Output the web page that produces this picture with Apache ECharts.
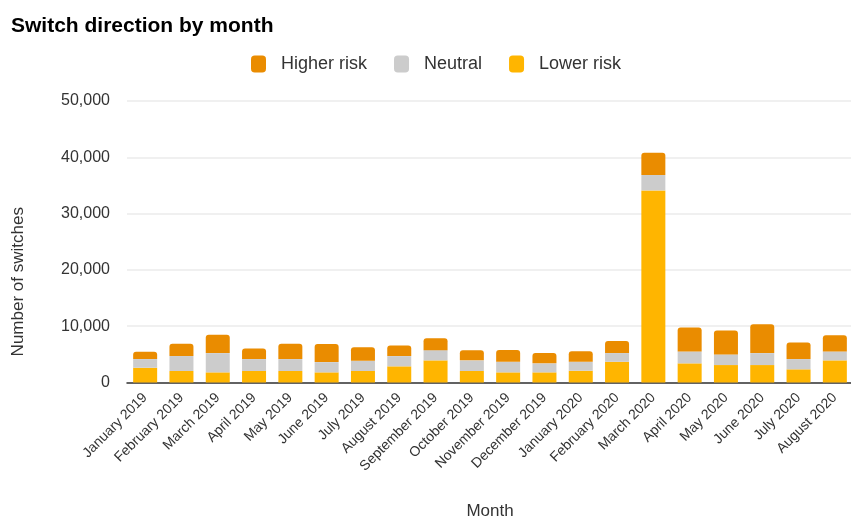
<!DOCTYPE html>
<html>
<head>
    <meta charset="utf-8">
    <title>Switch direction by month</title>
    <script src="https://cdn.jsdelivr.net/npm/echarts@6/dist/echarts.min.js"></script>
    <style>
        html, body { margin: 0; padding: 0; background: #fff; }
        #main { width: 851px; height: 520px; }
    </style>
</head>
<body>
    <div id="main"></div>
    <script type="text/javascript">
        var months = ['January 2019', 'February 2019', 'March 2019', 'April 2019', 'May 2019', 'June 2019',
            'July 2019', 'August 2019', 'September 2019', 'October 2019', 'November 2019', 'December 2019',
            'January 2020', 'February 2020', 'March 2020', 'April 2020', 'May 2020', 'June 2020',
            'July 2020', 'August 2020'];
        var lowerRisk = [2620, 2040, 1800, 2040, 2040, 1800, 2040, 2870, 3930, 2040,
            1800, 1800, 2090, 3680, 34120, 3400, 3100, 3100, 2340, 3930];
        var neutral = [1540, 2660, 3420, 2120, 2120, 1820, 1820, 1820, 1820, 1890,
            1890, 1600, 1600, 1550, 2730, 2120, 1890, 2120, 1820, 1590];
        var higherRisk = [1290, 2180, 3240, 1890, 2710, 3240, 2420, 1890, 2120, 1820,
            2080, 1830, 1850, 2140, 3950, 4250, 4250, 5130, 2950, 2890];

        var chartDom = document.getElementById('main');
        var myChart = echarts.init(chartDom, null, { renderer: 'canvas' });
        var fontFamily = 'Liberation Sans, Arial, sans-serif';

        var option = {
            animation: false,
            textStyle: { fontFamily: fontFamily },
            title: {
                text: 'Switch direction by month',
                left: 6,
                top: 11,
                textStyle: { fontSize: 21, fontWeight: 'bold', color: '#000', fontFamily: fontFamily }
            },
            legend: {
                data: ['Higher risk', 'Neutral', 'Lower risk'],
                top: 50,
                left: 246,
                itemWidth: 15,
                itemHeight: 17,
                itemGap: 27,
                icon: 'roundRect',
                textStyle: { fontSize: 18, color: '#333', padding: [0, 0, 0, 10] }
            },
            grid: {
                left: 127,
                right: -2,
                top: 101,
                bottom: 137.5,
                containLabel: false,
                outerBoundsMode: 'none'
            },
            xAxis: {
                type: 'category',
                data: months,
                name: 'Month',
                nameLocation: 'middle',
                nameGap: 120,
                nameTextStyle: { fontSize: 17, color: '#333' },
                axisLine: { lineStyle: { color: '#333', width: 1.5 } },
                axisTick: { show: false },
                axisLabel: { rotate: 45, fontSize: 14, color: '#333', margin: 13, interval: 0 }
            },
            yAxis: {
                type: 'value',
                min: 0,
                max: 50000,
                interval: 10000,
                name: 'Number of switches',
                nameLocation: 'middle',
                nameGap: 100,
                nameTextStyle: { fontSize: 17, color: '#333', padding: [0, 0, 0, -80] },
                axisLine: { show: false },
                axisTick: { show: false },
                axisLabel: {
                    fontSize: 16,
                    color: '#333',
                    margin: 17,
                    formatter: function (v) { return v.toLocaleString('en-US'); }
                },
                splitLine: { lineStyle: { color: '#ebebeb', width: 1.5 } }
            },
            series: [{
                name: 'Lower risk',
                type: 'bar',
                stack: 'total',
                barWidth: 24,
                data: lowerRisk,
                itemStyle: { color: '#FFB500' }
            }, {
                name: 'Neutral',
                type: 'bar',
                stack: 'total',
                barWidth: 24,
                data: neutral,
                itemStyle: { color: '#CCCCCC' }
            }, {
                name: 'Higher risk',
                type: 'bar',
                stack: 'total',
                barWidth: 24,
                data: higherRisk,
                itemStyle: { color: '#EA8C00', borderRadius: [3, 3, 0, 0] }
            }]
        };

        myChart.setOption(option);
    </script>
</body>
</html>
